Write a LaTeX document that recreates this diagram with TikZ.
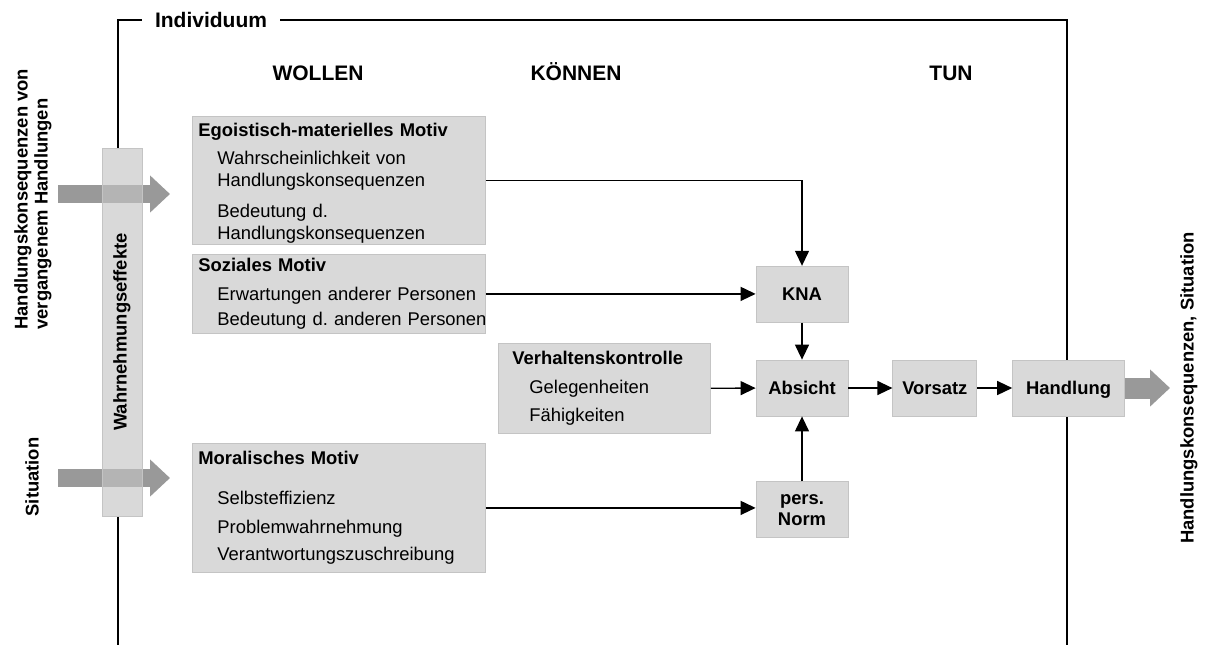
\documentclass[tikz,border=0pt]{standalone}
\usepackage{fontspec}
\setmainfont{Liberation Sans}
\usepackage{xcolor}
\usetikzlibrary{positioning, arrows.meta}
\frenchspacing

\definecolor{boxgray}{RGB}{217,217,217}
\definecolor{boxline}{RGB}{196,196,196}
\definecolor{fatgray}{RGB}{153,153,153}
\definecolor{bargray}{RGB}{196,196,196}
\newcommand{\eintrag}[1]{\hspace*{9.5pt}\mbox{#1}}

\begin{document}
\begin{tikzpicture}[x=0.5pt, y=-0.5pt, >={Triangle[length=7.5pt, width=7pt]},
    every node/.style={font=\fontsize{9.2}{11}\selectfont},
    motiv/.style={draw=boxline, fill=boxgray, anchor=north west, align=left, inner xsep=3pt, inner ysep=0pt},
    stage/.style={draw=boxline, fill=boxgray, font=\fontsize{9.2}{10.5}\selectfont\bfseries, minimum width=46pt, minimum height=28pt, inner sep=0pt, align=center, text height=6.6pt, text depth=0pt},
    head/.style={font=\fontsize{10.5}{12}\selectfont\bfseries, anchor=base},
    side/.style={font=\fontsize{9.2}{10}\selectfont\bfseries, rotate=90, inner sep=0pt},
    effekt/.style={draw=boxline, fill=bargray, fill opacity=0.64, text opacity=1, rotate=90, minimum width=184pt, minimum height=20pt, inner sep=0pt, font=\fontsize{9.2}{11}\selectfont\bfseries},
    fat/.style={line width=9pt, draw=fatgray, -{Triangle[length=10pt, width=18pt]}},
    flow/.style={->, line width=0.65pt},
    rahmen/.style={line width=0.65pt}]
    \useasboundingbox (0,0) rectangle (1205,645);

    % Rahmen Individuum
    \draw[rahmen] (118,148) -- (118,20) -- (1067,20) -- (1067,645);
    \draw[rahmen] (118,516) -- (118,645);
    \node[head, fill=white, inner xsep=6.5pt] (indiv) at (211,27.5) {Individuum};

    \node[head] (wollen) at (318,80.5) {WOLLEN};
    \node[head] (koennen) at (576,80.5) {KÖNNEN};
    \node[head] (tun) at (951,80.5) {TUN};

    % Eingaenge
    \coordinate (past) at (58,194);
    \coordinate (pastin) at (170,194);
    \coordinate (sit) at (58,478);
    \coordinate (sitin) at (170,478);
    \draw[fat] (past) -- (pastin);
    \draw[fat] (sit) -- (sitin);
    \node[effekt] (wahr) at (122,332) {Wahrnehmungseffekte};

    \node[side, anchor=west, align=left] (pastlbl) at (33,330) {Handlungskonsequenzen von\\vergangenem Handlungen};
    \node[side] (sitlbl) at (32,477) {Situation};

    % Motive
    \node[motiv, text width=140.5pt, minimum height=64pt] (ego) at (192,116) {\rule{0pt}{9.6pt}\textbf{Egoistisch-materielles Motiv}\\[3pt]
        \eintrag{Wahrscheinlichkeit von}\\
        \eintrag{Handlungskonsequenzen}\\[4.5pt]
        \eintrag{Bedeutung d.}\\
        \eintrag{Handlungskonsequenzen}};
    \node[motiv, text width=140.5pt, minimum height=39.5pt] (sozial) at (192,254) {\textbf{Soziales Motiv}\\[3.5pt]
        \eintrag{Erwartungen anderer Personen}\\[1.5pt]
        \eintrag{Bedeutung d. anderen Personen}};
    \node[motiv, text width=92pt, inner xsep=7pt, minimum height=45pt] (kontrolle) at (498,343) {\textbf{Verhaltenskontrolle}\\[3.5pt]
        \hspace*{8.5pt}Gelegenheiten\\[3pt]
        \hspace*{8.5pt}Fähigkeiten};
    \node[motiv, text width=140.5pt, minimum height=64.5pt] (moral) at (192,443) {\textbf{Moralisches Motiv}\\[9pt]
        \eintrag{Selbsteffizienz}\\[3.5pt]
        \eintrag{Problemwahrnehmung}\\[2.5pt]
        \eintrag{Verantwortungszuschreibung}};

    % Kette
    \node[stage]                       (absicht)  at (802,388)                {Absicht};
    \node[stage]                       (kna)      [above=18.5pt of absicht]   {KNA};
    \node[stage, text height=, text depth=] (norm) [below=32.5pt of absicht] {pers.\\Norm};
    \node[stage, minimum width=42pt]   (vorsatz)  [right=22pt of absicht]     {Vorsatz};
    \node[stage, minimum width=56pt]   (handlung) [right=17.5pt of vorsatz]   {Handlung};

    \draw[flow] (ego.east) -| (kna.north);
    \path[flow] (sozial.east)    edge (sozial.east -| kna.west)
                (kna)            edge (absicht)
                (kontrolle)      edge (absicht)
                (moral.east)     edge (moral.east -| norm.west)
                (norm)           edge (absicht)
                (absicht)        edge (vorsatz)
                (vorsatz)        edge (handlung);

    % Ausgang
    \coordinate (out) at (1170,388);
    \draw[fat, line width=10.5pt] (handlung.east) -- (out);
    \node[side] (outlbl) at (1189,388) {Handlungskonsequenzen, Situation};
\end{tikzpicture}
\end{document}
